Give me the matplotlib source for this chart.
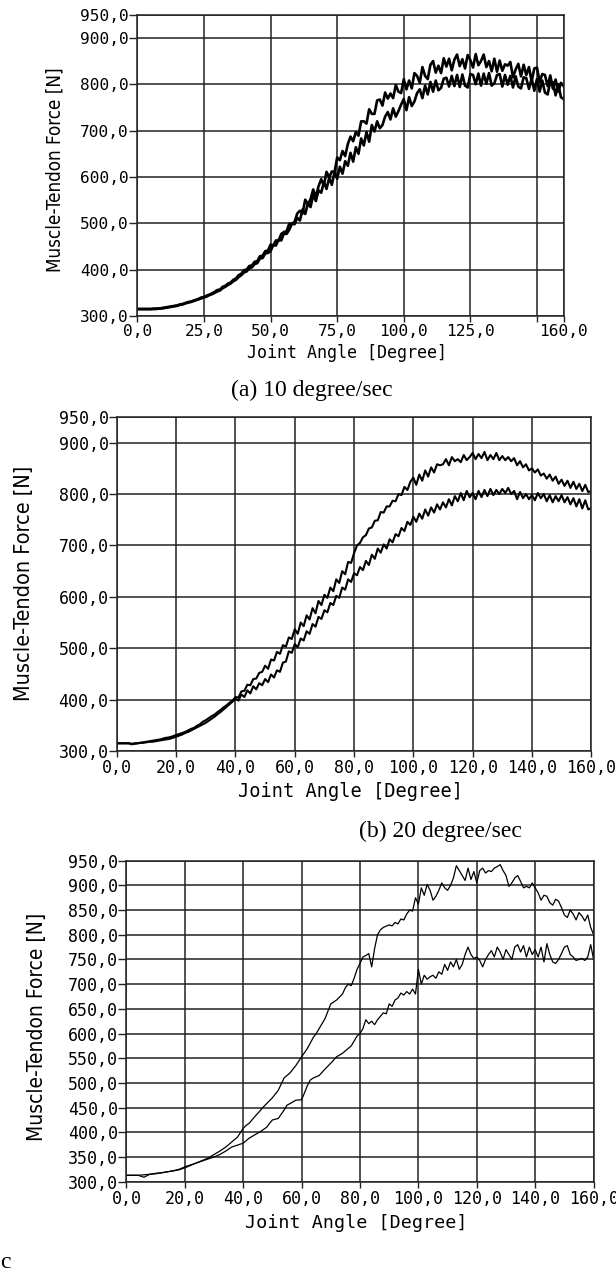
import numpy as np
from matplotlib import pyplot as plt
from matplotlib import font_manager

# joint angle grid (1 degree steps) for panels (a) and (b)
angle_ab = np.arange(0, 161)

# (a) 10 degree/sec
force_a_up = [315, 315, 315, 315, 315, 315, 316, 316, 316, 317,
              318, 319, 320, 321, 322, 323, 325, 326, 328, 330,
              331, 333, 335, 337, 340, 341, 344, 346, 349, 352,
              356, 357, 363, 365, 370, 372, 378, 381, 388, 391,
              399, 400, 408, 409, 417, 418, 429, 430, 440, 441,
              454, 452, 463, 462, 477, 481, 483, 499, 499, 503,
              521, 527, 521, 551, 541, 552, 573, 557, 580, 595,
              582, 611, 599, 612, 610, 642, 636, 656, 645, 671,
              687, 677, 697, 689, 720, 720, 715, 746, 736, 736,
              765, 767, 754, 782, 769, 780, 770, 798, 784, 781,
              811, 789, 808, 791, 824, 818, 803, 837, 818, 811,
              842, 850, 825, 840, 824, 856, 838, 855, 830, 853,
              864, 839, 854, 834, 863, 852, 836, 865, 841, 850,
              864, 837, 850, 828, 855, 827, 851, 829, 843, 840,
              848, 815, 832, 844, 817, 842, 820, 837, 806, 834,
              836, 805, 822, 820, 796, 819, 790, 810, 784, 803,
              796]
force_a_lo = [315, 315, 315, 315, 315, 315, 315, 315, 316, 316,
              317, 318, 319, 320, 321, 322, 324, 325, 327, 329,
              330, 332, 334, 336, 338, 340, 342, 345, 347, 350,
              353, 355, 360, 363, 367, 370, 375, 378, 384, 388,
              394, 396, 403, 405, 412, 414, 424, 425, 435, 436,
              440, 453, 452, 465, 463, 478, 477, 486, 499, 498,
              512, 506, 530, 520, 543, 535, 561, 548, 571, 566,
              589, 574, 598, 583, 611, 596, 622, 607, 634, 624,
              652, 633, 664, 650, 683, 668, 697, 676, 712, 698,
              720, 705, 712, 730, 740, 724, 748, 730, 742, 756,
              768, 744, 772, 753, 763, 781, 789, 770, 797, 778,
              805, 784, 808, 787, 792, 812, 814, 795, 818, 796,
              820, 794, 821, 797, 793, 822, 820, 800, 823, 797,
              823, 801, 824, 797, 802, 820, 822, 795, 820, 799,
              818, 793, 817, 795, 791, 815, 813, 790, 812, 786,
              811, 784, 808, 782, 778, 806, 804, 776, 800, 772,
              768]

# (b) 20 degree/sec
force_b_up = [315, 315, 315, 315, 315, 313, 314, 315, 316, 317,
              318, 319, 320, 321, 322, 323, 325, 326, 327, 329,
              331, 333, 335, 337, 340, 343, 345, 349, 352, 357,
              360, 364, 368, 371, 376, 380, 385, 389, 394, 398,
              405, 404, 416, 417, 429, 428, 440, 441, 452, 454,
              466, 460, 478, 476, 493, 489, 506, 503, 521, 518,
              537, 528, 550, 543, 564, 556, 578, 568, 592, 584,
              604, 598, 618, 611, 634, 627, 650, 644, 668, 666,
              685, 700, 705, 716, 720, 733, 735, 748, 749, 765,
              764, 776, 776, 787, 786, 800, 798, 814, 808, 824,
              832, 818, 838, 826, 846, 834, 852, 842, 858, 856,
              858, 868, 856, 872, 864, 868, 862, 876, 866, 872,
              880, 868, 878, 870, 882, 866, 876, 868, 880, 866,
              874, 866, 872, 864, 870, 856, 864, 852, 858, 846,
              850, 842, 848, 836, 840, 830, 838, 826, 834, 820,
              828, 816, 826, 812, 824, 810, 820, 806, 818, 804,
              806]
force_b_lo = [315, 315, 315, 315, 315, 314, 315, 315, 316, 316,
              317, 318, 318, 319, 320, 321, 322, 323, 324, 326,
              328, 330, 332, 335, 337, 340, 343, 346, 349, 352,
              355, 359, 363, 367, 372, 376, 381, 386, 391, 396,
              402, 398, 410, 405, 418, 412, 426, 420, 432, 428,
              440, 434, 449, 443, 457, 454, 472, 474, 494, 491,
              508, 502, 519, 515, 533, 528, 547, 542, 561, 557,
              574, 570, 588, 584, 602, 598, 618, 614, 634, 629,
              646, 642, 658, 652, 670, 662, 682, 674, 694, 686,
              702, 694, 712, 706, 722, 718, 734, 728, 746, 740,
              756, 746, 762, 752, 770, 758, 774, 764, 780, 770,
              784, 774, 790, 778, 796, 786, 802, 788, 806, 794,
              802, 790, 806, 794, 808, 796, 810, 798, 808, 800,
              810, 802, 812, 800, 806, 790, 804, 792, 800, 790,
              798, 788, 802, 792, 800, 786, 798, 784, 796, 786,
              798, 784, 794, 780, 792, 776, 790, 772, 788, 770,
              773]

# (c) 30 degree/sec
angle_c_up = [0, 2, 4, 6, 8, 10, 12, 14, 16, 18, 20, 22, 24, 26, 28, 30, 32, 34, 36, 38,
              40, 41, 42, 44, 46, 47, 48, 50, 52, 54, 56, 58, 60, 62, 64, 65, 66, 68, 70, 71,
              72, 74, 75, 76, 77, 78, 79, 80, 81, 82, 83, 84, 85, 86, 87, 88, 90, 91, 92, 93,
              94, 95, 96, 97, 98, 99, 100, 101, 102, 103, 104, 105, 106, 107, 108, 109, 110, 111, 112, 113,
              114, 115, 116, 117, 118, 119, 120, 121, 122, 123, 124, 125, 126, 127, 128, 129, 130, 131, 132, 133,
              134, 135, 136, 137, 138, 139, 140, 141, 142, 143, 144, 145, 146, 147, 148, 149, 150, 151, 152, 153,
              154, 155, 156, 157, 158, 159, 160, 160]
force_c_up = [313, 313, 313, 314, 315, 317, 318, 320, 322, 325, 330, 334, 338, 343, 348, 355, 362, 370, 380, 390,
              408, 414, 418, 432, 445, 452, 458, 470, 485, 510, 520, 535, 553, 570, 592, 600, 610, 630, 660, 664,
              668, 680, 693, 700, 697, 712, 730, 742, 755, 758, 762, 735, 772, 800, 810, 815, 820, 818, 825, 822,
              832, 830, 842, 850, 848, 875, 862, 895, 880, 902, 890, 870, 878, 890, 905, 895, 890, 900, 915, 940,
              930, 920, 910, 935, 912, 928, 905, 930, 935, 925, 930, 928, 935, 938, 942, 930, 920, 898, 905, 915,
              920, 908, 895, 898, 895, 905, 895, 885, 870, 880, 878, 865, 860, 872, 868, 855, 840, 835, 850, 842,
              830, 845, 838, 828, 840, 815, 800, 750]
angle_c_lo = [0, 2, 4, 6, 8, 10, 12, 14, 16, 18, 20, 22, 24, 26, 28, 30, 32, 34, 36, 38,
              40, 42, 44, 46, 48, 49, 50, 52, 54, 55, 56, 58, 60, 61, 62, 63, 64, 66, 68, 70,
              72, 74, 76, 77, 78, 79, 80, 81, 82, 83, 84, 85, 86, 87, 88, 89, 90, 91, 92, 93,
              94, 95, 96, 97, 98, 99, 100, 101, 102, 103, 104, 105, 106, 107, 108, 109, 110, 111, 112, 113,
              114, 115, 116, 117, 118, 119, 120, 121, 122, 123, 124, 125, 126, 127, 128, 129, 130, 131, 132, 133,
              134, 135, 136, 137, 138, 139, 140, 141, 142, 143, 144, 145, 146, 147, 148, 149, 150, 151, 152, 153,
              154, 155, 156, 157, 158, 159, 160]
force_c_lo = [313, 313, 313, 309, 315, 316, 318, 320, 322, 324, 328, 333, 338, 342, 346, 350, 355, 362, 370, 374,
              378, 388, 395, 402, 410, 418, 425, 428, 445, 455, 458, 465, 466, 480, 495, 506, 510, 515, 528, 540,
              553, 560, 570, 575, 585, 595, 600, 610, 628, 620, 625, 618, 628, 635, 642, 640, 660, 655, 668, 672,
              682, 678, 685, 680, 690, 680, 730, 700, 718, 710, 715, 718, 712, 725, 720, 740, 728, 745, 735, 750,
              730, 740, 760, 775, 760, 752, 755, 748, 735, 750, 760, 768, 755, 775, 765, 750, 770, 760, 750, 775,
              780, 765, 778, 755, 775, 760, 770, 755, 775, 745, 782, 760, 745, 742, 750, 762, 775, 778, 760, 755,
              748, 750, 752, 748, 755, 780, 750]

ticks_a_x = [0, 25, 50, 75, 100, 125, 150, 160]
ticklabels_a_x = ["0,0", "25,0", "50,0", "75,0", "100,0", "125,0", "", "160,0"]
ticks_a_y = [300, 400, 500, 600, 700, 800, 900, 950]
ticks_bc_x = [0, 20, 40, 60, 80, 100, 120, 140, 160]
ticks_b_y = [300, 400, 500, 600, 700, 800, 900, 950]
ticks_c_y = [300, 350, 400, 450, 500, 550, 600, 650, 700, 750, 800, 850, 900, 950]

W, H = 616, 1274
mono = "DejaVu Sans Mono"

# narrow font for the y labels if one is installed, otherwise Roboto
narrow_file = None
for f in font_manager.fontManager.ttflist:
    if ("Narrow" in f.name or "Condensed" in f.name or f.stretch in ("condensed", "semi-condensed")) \
            and f.weight in (400, "normal", "regular") and f.style == "normal":
        narrow_file = f.fname
        break
if narrow_file:
    ylab_font = dict(fontproperties=font_manager.FontProperties(fname=narrow_file))
    nscale = 1.0
else:
    ylab_font = dict(family="Roboto")
    nscale = 0.84


def box(l, r, t, b):
    return [l / W, 1 - b / H, (r - l) / W, (b - t) / H]


def fmt(v):
    return ("%.1f" % v).replace(".", ",")


def ylabel(x, y, size):
    t = fig.text(x / W, 1 - y / H, "Muscle-Tendon Force [N]", rotation=90,
                 ha="center", va="center", **ylab_font)
    t.set_fontsize(size * nscale)


def setup(ax, xt, xtl, yt, fs):
    ax.set_xlim(0, 160)
    ax.set_ylim(300, 950)
    ax.set_xticks(xt)
    ax.set_xticklabels(xtl, fontfamily=mono, fontsize=fs)
    ax.set_yticks(yt)
    ax.set_yticklabels([fmt(v) for v in yt], fontfamily=mono, fontsize=fs)
    ax.tick_params(axis="y", length=5.5, width=1.0, pad=0.5, color="#222222")
    ax.tick_params(axis="x", length=4, width=1.0, pad=2, color="#222222")
    ax.grid(True, color="#222222", linewidth=1.1)
    for s in ax.spines.values():
        s.set_color("#222222")
        s.set_linewidth(1.1)


fig = plt.figure(figsize=(W / 100, H / 100), dpi=100)

# panel (a)
ax1 = fig.add_axes(box(137.4, 563.6, 14.7, 316))
ax1.plot(angle_ab, force_a_up, color="black", linewidth=1.9)
ax1.plot(angle_ab, force_a_lo, color="black", linewidth=1.9)
setup(ax1, ticks_a_x, ticklabels_a_x, ticks_a_y, 11.6)
fig.text(347 / W, 1 - 352.7 / H, "Joint Angle [Degree]", family=mono, fontsize=12,
         ha="center", va="center")
ylabel(55, 170, 13.5)
fig.text(312 / W, 1 - 390 / H, "(a) 10 degree/sec", family="Liberation Serif", fontsize=17,
         ha="center", va="center")

# panel (b)
ax2 = fig.add_axes(box(116.9, 591.2, 417, 751))
ax2.plot(angle_ab, force_b_up, color="black", linewidth=1.5)
ax2.plot(angle_ab, force_b_lo, color="black", linewidth=1.5)
setup(ax2, ticks_bc_x, [fmt(v) for v in ticks_bc_x], ticks_b_y, 12)
fig.text(350 / W, 1 - 791.7 / H, "Joint Angle [Degree]", family=mono, fontsize=13.4,
         ha="center", va="center")
ylabel(24.5, 583, 15.5)
fig.text(440 / W, 1 - 831 / H, "(b) 20 degree/sec", family="Liberation Serif", fontsize=17,
         ha="center", va="center")

# panel (c)
ax3 = fig.add_axes(box(126.4, 593.6, 860.7, 1181.7))
ax3.plot(angle_c_up, force_c_up, color="black", linewidth=0.9)
ax3.plot(angle_c_lo, force_c_lo, color="black", linewidth=0.9)
setup(ax3, ticks_bc_x, [fmt(v) for v in ticks_bc_x], ticks_c_y, 12)
fig.text(356 / W, 1 - 1222.7 / H, "Joint Angle [Degree]", family=mono, fontsize=13.2,
         ha="center", va="center")
ylabel(37.5, 1026.7, 15)
fig.text(0, 1 - 1263 / H, "c", family="Liberation Serif", fontsize=17, ha="left", va="center")

fig.savefig("out.png", dpi=100)
